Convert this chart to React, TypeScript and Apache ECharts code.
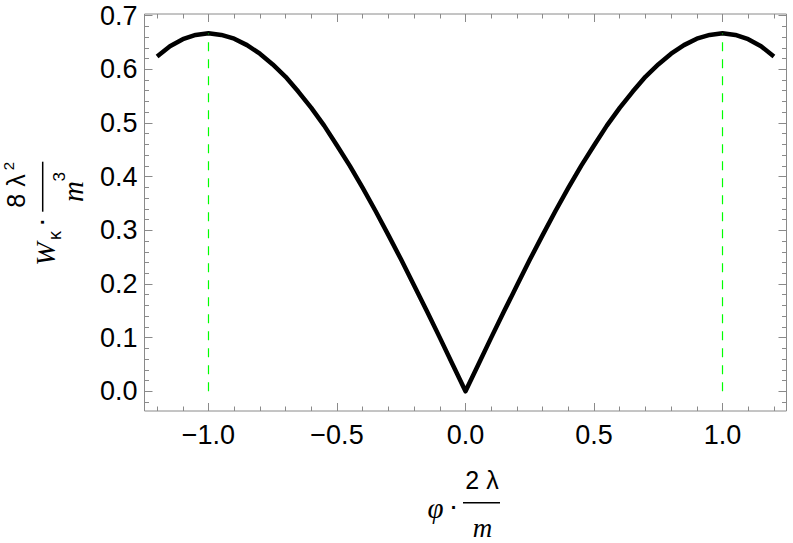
import React, { useEffect, useRef } from "react";
import * as echarts from "echarts";

// Curve samples (phi * 2λ/m  vs  W_κ * 8λ²/m³)
const xValues = [
  -1.2, -1.15, -1.1, -1.05, -1.0, -0.95, -0.9, -0.85, -0.8, -0.75, -0.7, -0.65, -0.6,
  -0.55, -0.5, -0.45, -0.4, -0.35, -0.3, -0.25, -0.2, -0.15, -0.1, -0.05, 0,
  0.05, 0.1, 0.15, 0.2, 0.25, 0.3, 0.35, 0.4, 0.45, 0.5, 0.55, 0.6,
  0.65, 0.7, 0.75, 0.8, 0.85, 0.9, 0.95, 1.0, 1.05, 1.1, 1.15, 1.2,
];
const yValues = [
  0.624, 0.643, 0.656, 0.664, 0.667, 0.664, 0.657, 0.645, 0.629, 0.609, 0.586, 0.558, 0.528,
  0.495, 0.458, 0.42, 0.379, 0.336, 0.291, 0.245, 0.197, 0.149, 0.1, 0.05, 0,
  0.05, 0.1, 0.149, 0.197, 0.245, 0.291, 0.336, 0.379, 0.42, 0.458, 0.495, 0.528,
  0.558, 0.586, 0.609, 0.629, 0.645, 0.657, 0.664, 0.667, 0.664, 0.656, 0.643, 0.624,
];

// Green dashed markers
const markerX = [-1.0, 1.0];
const markerTop = 0.6667;

// Axis ticks and labels
const xMajor = [-1.0, -0.5, 0, 0.5, 1.0];
const xTickLabels = ["\u22121.0", "\u22120.5", "0.0", "0.5", "1.0"];
const xMinor = [-1.2, -1.1, -0.9, -0.8, -0.7, -0.6, -0.4, -0.3, -0.2, -0.1, 0.1, 0.2, 0.3, 0.4, 0.6, 0.7, 0.8, 0.9, 1.1, 1.2];
const yMajor = [0, 0.1, 0.2, 0.3, 0.4, 0.5, 0.6, 0.7];
const yTickLabels = ["0.0", "0.1", "0.2", "0.3", "0.4", "0.5", "0.6", "0.7"];
const yMinor = [
  -0.02, 0.02, 0.04, 0.06, 0.08, 0.12, 0.14, 0.16, 0.18, 0.22, 0.24, 0.26, 0.28,
  0.32, 0.34, 0.36, 0.38, 0.42, 0.44, 0.46, 0.48, 0.52, 0.54, 0.56, 0.58, 0.62, 0.64, 0.66, 0.68,
];

const X_MIN = -1.249;
const X_MAX = 1.249;
const Y_MIN = -0.0367;
const Y_MAX = 0.703;

const FRAME = "#8a8a8a";
const SANS = '"Liberation Sans", Arial, sans-serif';
const SERIF = '"Liberation Serif", "Times New Roman", serif';

function findLabel(values: number[], labels: string[], v: number) {
  for (let i = 0; i < values.length; i++) {
    if (Math.abs(values[i] - v) < 1e-6) return labels[i];
  }
  return "";
}

export default function App() {
  const ref = useRef<HTMLDivElement>(null);

  useEffect(() => {
    if (!ref.current) return;
    const chart = echarts.init(ref.current, null, { renderer: "svg" });

    const tickAxisX = (position: "top" | "bottom", values: number[], len: number, labels: boolean) => ({
      type: "value",
      position,
      min: X_MIN,
      max: X_MAX,
      axisLine: { show: false, onZero: false },
      splitLine: { show: false },
      axisTick: {
        show: true,
        inside: true,
        length: len,
        customValues: values,
        lineStyle: { color: FRAME, width: 1 },
      },
      axisLabel: labels
        ? {
            show: true,
            customValues: values,
            formatter: (v: number) => findLabel(xMajor, xTickLabels, v),
            fontFamily: SANS,
            fontSize: 27,
            color: "#000",
            margin: 10,
          }
        : { show: false },
    });

    const tickAxisY = (position: "left" | "right", values: number[], len: number, labels: boolean) => ({
      type: "value",
      position,
      min: Y_MIN,
      max: Y_MAX,
      axisLine: { show: false, onZero: false },
      splitLine: { show: false },
      axisTick: {
        show: true,
        inside: true,
        length: len,
        customValues: values,
        lineStyle: { color: FRAME, width: 1 },
      },
      axisLabel: labels
        ? {
            show: true,
            customValues: values,
            formatter: (v: number) => findLabel(yMajor, yTickLabels, v),
            fontFamily: SANS,
            fontSize: 27,
            color: "#000",
            margin: 7,
          }
        : { show: false },
    });

    const curve = xValues.map((x, i) => [x, yValues[i]]);

    const markerSeries = markerX.map((mx) => ({
      type: "line",
      xAxisIndex: 0,
      yAxisIndex: 0,
      data: [
        [mx, 0],
        [mx, markerTop],
      ],
      showSymbol: false,
      symbol: "none",
      silent: true,
      z: 5,
      lineStyle: { color: "#00ff00", width: 1.2, type: [9, 8] },
    }));

    const lbl = (text: string, x: number, y: number, font: string, rotation = 0) => ({
      type: "text",
      x,
      y,
      rotation,
      silent: true,
      style: {
        text,
        x: 0,
        y: 0,
        font,
        fill: "#000",
        textAlign: "center",
        textVerticalAlign: "middle",
        verticalAlign: "middle",
      },
    });

    const R = Math.PI / 2;

    chart.setOption({
      animation: false,
      backgroundColor: "#fff",
      grid: {
        left: 144.5,
        top: 14,
        width: 642,
        height: 397,
        show: true,
        borderColor: FRAME,
        borderWidth: 1,
        backgroundColor: "transparent",
        containLabel: false,
      },
      xAxis: [
        tickAxisX("bottom", xMajor, 8, true),
        tickAxisX("bottom", xMinor, 4.5, false),
        tickAxisX("top", xMajor, 8, false),
        tickAxisX("top", xMinor, 4.5, false),
      ],
      yAxis: [
        tickAxisY("left", yMajor, 8, true),
        tickAxisY("left", yMinor, 4.5, false),
        tickAxisY("right", yMajor, 8, false),
        tickAxisY("right", yMinor, 4.5, false),
      ],
      series: [
        {
          type: "line",
          xAxisIndex: 0,
          yAxisIndex: 0,
          data: curve,
          showSymbol: false,
          symbol: "none",
          silent: true,
          z: 3,
          lineStyle: { color: "#000", width: 4.5, join: "round", cap: "butt" },
        },
        ...markerSeries,
      ],
      graphic: [
        // x axis label: phi · (2 λ / m)
        lbl("\u03C6", 435.5, 508, `italic 29px ${SERIF}`),
        lbl("\u00B7", 454, 507, `bold 20px ${SANS}`),
        lbl("2 \u03BB", 482, 480, `25px ${SANS}`),
        {
          type: "line",
          silent: true,
          shape: { x1: 463, y1: 502.7, x2: 500, y2: 502.7 },
          style: { stroke: "#000", lineWidth: 1.5 },
        },
        lbl("m", 482.5, 527.5, `italic 27px ${SERIF}`),
        // y axis label: W_κ · (8 λ² / m³)  (rotated)
        lbl("W", 45, 254, `italic 28px ${SERIF}`, R),
        lbl("\u03BA", 54.5, 235.5, `18px ${SANS}`, R),
        lbl("\u00B7", 42, 221.7, `bold 20px ${SANS}`, R),
        {
          type: "line",
          silent: true,
          shape: { x1: 42.7, y1: 161.7, x2: 42.7, y2: 211.7 },
          style: { stroke: "#000", lineWidth: 1.5 },
        },
        lbl("8 \u03BB", 16, 191, `25px ${SANS}`, R),
        lbl("2", 8.5, 166, `15px ${SANS}`, R),
        lbl("m", 73, 191.5, `italic 29px ${SERIF}`, R),
        lbl("3", 59, 176.7, `17px ${SANS}`, R),
      ],
    });

    return () => chart.dispose();
  }, []);

  return (
    <div
      ref={ref}
      style={{ position: "fixed", left: 0, top: 0, width: 793, height: 543, background: "#fff" }}
    />
  );
}
